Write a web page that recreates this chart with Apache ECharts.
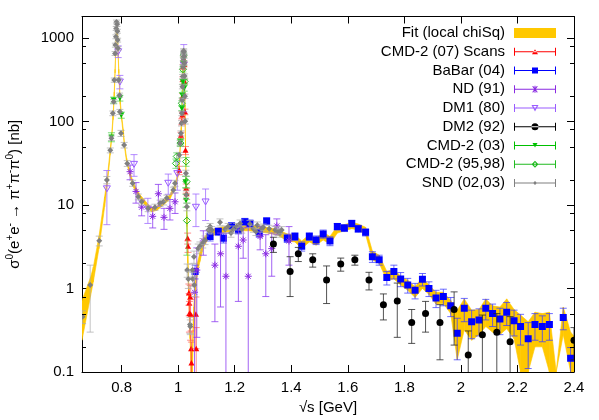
<!DOCTYPE html>
<html>
<head>
<meta charset="utf-8">
<script src="https://cdn.jsdelivr.net/npm/echarts@6/dist/echarts.min.js"></script>
<style>
  html, body { margin: 0; padding: 0; background: #fff; }
  #chart { width: 599px; height: 420px; }
</style>
</head>
<body>
<div id="chart"></div>
<script>
const FONT = '"Liberation Sans", Arial, Helvetica, sans-serif';

// axis ticks
const xTickValues = [0.8, 1, 1.2, 1.4, 1.6, 1.8, 2, 2.2, 2.4];
const yMinorTicks = [0.2, 0.5, 0.8, 2, 5, 8, 20, 50, 80, 200, 500, 800];

// fit band: [sqrt(s), lower, upper]
const fitBand = [
  [0.66, 0.24, 0.72], [0.69, 0.8, 1.35], [0.70, 1.2, 1.8], [0.72, 3.0, 4.2], [0.74, 9.5, 12.5],
  [0.75, 18, 22], [0.76, 40, 47], [0.765, 62, 70], [0.77, 105, 118], [0.774, 200, 225],
  [0.777, 380, 420], [0.780, 800, 880], [0.782, 1250, 1400], [0.784, 1350, 1500], [0.786, 950, 1050],
  [0.788, 600, 660], [0.790, 380, 420], [0.795, 160, 180], [0.800, 105, 118], [0.806, 70, 80],
  [0.810, 50, 56], [0.818, 32, 36], [0.83, 22, 25], [0.841, 16.5, 18.5], [0.865, 11.8, 13.2],
  [0.889, 9.4, 10.6], [0.906, 8.3, 9.3], [0.924, 8.6, 9.6], [0.948, 10, 11.2], [0.971, 11.8, 13.2],
  [0.989, 15.6, 17.6], [1.000, 22, 25], [1.005, 33, 37], [1.008, 50, 57], [1.011, 75, 85],
  [1.013, 110, 125], [1.015, 190, 215], [1.017, 380, 430], [1.019, 640, 720], [1.0205, 620, 700],
  [1.022, 380, 430], [1.024, 140, 160], [1.026, 50, 60], [1.028, 17, 21], [1.031, 5.5, 7.5],
  [1.034, 2.0, 2.8], [1.038, 0.7, 1.0], [1.042, 0.25, 0.4], [1.046, 0.06, 0.15], [1.050, 0.08, 0.2],
  [1.055, 0.35, 0.6], [1.060, 0.8, 1.15], [1.068, 1.5, 2.0], [1.077, 2.1, 2.7], [1.089, 3.1, 3.9],
  [1.10, 3.6, 4.4], [1.113, 4.1, 4.9], [1.13, 4.4, 5.2], [1.15, 4.6, 5.4], [1.20, 4.9, 5.7],
  [1.25, 4.9, 5.7], [1.30, 4.7, 5.5], [1.35, 4.4, 5.1], [1.386, 3.7, 4.5], [1.413, 3.6, 4.4],
  [1.437, 3.0, 3.7], [1.464, 3.6, 4.4], [1.488, 3.3, 4.0], [1.513, 3.8, 4.7], [1.537, 3.4, 4.2],
  [1.563, 4.6, 5.6], [1.588, 4.9, 5.8], [1.614, 5.2, 6.2], [1.637, 5.0, 5.9], [1.663, 4.4, 5.4],
  [1.687, 2.2, 2.8], [1.711, 2.0, 2.5], [1.738, 1.25, 1.6], [1.763, 1.3, 1.7], [1.787, 1.1, 1.4],
  [1.812, 0.95, 1.25], [1.838, 0.78, 1.05], [1.864, 1.0, 1.35], [1.887, 0.85, 1.1], [1.912, 0.65, 0.9],
  [1.938, 0.66, 0.9], [1.964, 0.5, 0.72], [1.987, 0.14, 0.55], [2.012, 0.32, 0.75], [2.038, 0.24, 0.55],
  [2.064, 0.28, 0.56], [2.088, 0.35, 0.75], [2.112, 0.3, 0.62], [2.138, 0.28, 0.6], [2.162, 0.33, 0.75],
  [2.188, 0.25, 0.56], [2.211, 0.08, 0.48], [2.238, 0.08, 0.4], [2.262, 0.2, 0.52], [2.288, 0.2, 0.5],
  [2.313, 0.1, 0.52], [2.337, 0.05, 0.1], [2.362, 0.28, 0.6], [2.388, 0.06, 0.3], [2.40, 0.06, 0.27]
];

// data points: [sqrt(s), sigma, error]
const cmd2Scans = [
  [1.004, 26, 3], [1.010, 68, 6], [1.013, 99, 8], [1.015, 119, 10], [1.016, 200, 15],
  [1.017, 320, 22], [1.018, 450, 28], [1.0195, 560, 35], [1.021, 480, 30], [1.022, 300, 20],
  [1.024, 130, 10], [1.026, 45, 5], [1.0285, 15.8, 2], [1.030, 13.6, 2], [1.0335, 4.0, 0.6],
  [1.035, 3.2, 0.5], [1.038, 0.88, 0.25], [1.039, 0.67, 0.2], [1.040, 0.50, 0.2], [1.043, 0.79, 0.3],
  [1.044, 0.49, 0.25], [1.046, 0.19, 0.12], [1.047, 0.128, 0.1], [1.063, 0.49, 0.3], [1.064, 0.19, 0.15]
];
const babar = [
  [1.060, 1.6, 0.3], [1.113, 4.2, 0.5], [1.142, 4.8, 0.5], [1.160, 4.0, 0.5], [1.189, 5.6, 0.5],
  [1.213, 5.0, 0.5], [1.236, 6.3, 0.6], [1.254, 6.0, 0.6], [1.287, 4.6, 0.5], [1.313, 6.4, 0.6],
  [1.386, 4.0, 0.45], [1.413, 4.2, 0.45], [1.437, 3.2, 0.4], [1.464, 4.2, 0.45], [1.488, 3.8, 0.45],
  [1.513, 4.5, 0.5], [1.537, 3.7, 0.45], [1.563, 5.5, 0.5], [1.588, 5.3, 0.5], [1.614, 6.0, 0.55],
  [1.637, 5.2, 0.5], [1.663, 4.7, 0.45], [1.687, 2.4, 0.35], [1.711, 2.2, 0.3], [1.738, 1.35, 0.25],
  [1.763, 1.6, 0.3], [1.787, 1.3, 0.25], [1.812, 1.1, 0.22], [1.838, 0.95, 0.2], [1.864, 1.29, 0.22],
  [1.887, 1.0, 0.2], [1.912, 0.77, 0.18], [1.938, 0.80, 0.18], [1.964, 0.62, 0.16], [1.987, 0.29, 0.15],
  [2.012, 0.58, 0.18], [2.038, 0.40, 0.15], [2.064, 0.42, 0.15], [2.088, 0.58, 0.16], [2.112, 0.50, 0.15],
  [2.138, 0.43, 0.15], [2.162, 0.52, 0.16], [2.188, 0.41, 0.14], [2.211, 0.35, 0.14], [2.238, 0.25, 0.14],
  [2.262, 0.37, 0.13], [2.288, 0.35, 0.12], [2.313, 0.37, 0.13], [2.362, 0.45, 0.13], [2.388, 0.146, 0.05]
];
const nd91 = [
  [0.830, 25, 5], [0.851, 14.5, 4], [0.871, 9.4, 2], [0.910, 7.3, 2], [0.930, 13.6, 4],
  [0.950, 7.1, 2], [0.971, 9.1, 2.5], [0.989, 10.9, 3], [1.058, 0.9, 0.8], [1.066, 1.66, 1.4],
  [1.089, 3.7, 1.2], [1.130, 1.9, 1.5], [1.150, 2.6, 2.0], [1.169, 1.4, 3.2], [1.213, 3.2, 2.5],
  [1.230, 3.8, 1.5], [1.248, 1.4, 4], [1.290, 4.2, 1.3], [1.310, 2.6, 1.8], [1.331, 3.0, 1.6],
  [1.349, 5.6, 1.2], [1.392, 3.7, 1.8]
];
const dm1 = [
  [0.748, 15.8, 10], [0.788, 690, 110], [0.794, 300, 55], [0.844, 31, 9], [0.893, 9, 3],
  [0.965, 18.4, 5], [0.997, 24, 9], [1.020, 480, 350], [1.063, 9.5, 4], [1.097, 11, 4.5]
];
const dm2 = [
  [1.337, 3.4, 0.7], [1.396, 1.6, 0.8], [1.425, 2.6, 0.5], [1.476, 2.2, 0.4], [1.525, 1.26, 0.6],
  [1.575, 1.96, 0.35], [1.625, 2.2, 0.3], [1.675, 1.26, 0.3], [1.726, 0.64, 0.22], [1.775, 0.71, 0.45],
  [1.826, 0.39, 0.17], [1.875, 0.50, 0.2], [1.926, 0.39, 0.25], [1.976, 0.56, 0.35], [2.026, 0.16, 0.15],
  [2.076, 0.28, 0.2], [2.127, 0.30, 0.2], [2.174, 0.23, 0.23], [2.40, 0.24, 0.1]
];
const cmd2_03 = [
  [0.764, 65, 8], [0.772, 180, 15], [0.794, 190, 15], [0.799, 119, 10],
  [1.008, 57, 5], [1.013, 144, 10], [1.015, 206, 15], [1.017, 298, 20], [1.019, 500, 30],
  [1.0215, 250, 20], [1.026, 19, 3], [1.028, 11.4, 2]
];
const cmd2_9598 = [
  [0.992, 31.4, 4], [0.995, 38, 4], [1.008, 55, 5], [1.013, 165, 12], [1.017, 420, 30],
  [1.0195, 620, 40], [1.023, 300, 20], [1.028, 33, 4], [1.030, 19, 3], [1.031, 6.5, 4]
];
const snd = [
  [0.662, 0.46, 0.08], [0.689, 1.10, 0.8], [0.721, 3.73, 0.5], [0.748, 19.9, 2], [0.760, 45, 3],
  [0.764, 63, 4], [0.769, 125, 8], [0.772, 172, 10], [0.774, 312, 18], [0.777, 650, 35],
  [0.778, 818, 45], [0.780, 1030, 55], [0.781, 1295, 70], [0.782, 1550, 80], [0.784, 1450, 75],
  [0.785, 1200, 65], [0.786, 940, 50], [0.787, 750, 40], [0.790, 312, 18], [0.793, 206, 12],
  [0.794, 130, 9], [0.798, 72, 6], [0.809, 52, 4], [0.820, 31.4, 2.5], [0.839, 18.2, 1.5],
  [0.859, 12.5, 1], [0.871, 10.9, 0.9], [0.894, 9.1, 0.8], [0.918, 9.4, 0.8], [0.936, 10.5, 0.9],
  [0.948, 10.9, 0.9], [0.960, 12.1, 1], [0.983, 15.1, 1.2], [0.989, 18.2, 1.5], [1.004, 39.6, 3],
  [1.007, 54.8, 4], [1.010, 72, 5], [1.012, 95, 7], [1.013, 125, 8], [1.014, 180, 10],
  [1.015, 260, 15], [1.016, 344, 20], [1.017, 450, 25], [1.018, 560, 30], [1.019, 650, 35],
  [1.0195, 700, 40], [1.020, 680, 35], [1.021, 600, 30], [1.022, 500, 28], [1.023, 350, 20],
  [1.024, 200, 12], [1.025, 100, 7], [1.0275, 24, 2], [1.029, 13.2, 1.5], [1.031, 9.5, 1],
  [1.032, 1.66, 0.3], [1.036, 1.30, 0.3], [1.042, 0.37, 0.08], [1.043, 0.35, 0.07], [1.051, 1.66, 0.3],
  [1.052, 1.30, 0.25], [1.056, 2.4, 0.4], [1.057, 1.1, 0.3], [1.071, 3.0, 0.4], [1.077, 3.2, 0.4],
  [1.087, 3.5, 0.45], [1.095, 3.8, 0.45], [1.107, 5.0, 0.5], [1.113, 5.5, 0.5], [1.119, 5.0, 0.5],
  [1.148, 6.2, 0.6], [1.166, 5.1, 0.5], [1.177, 5.5, 0.5], [1.187, 4.6, 0.5], [1.195, 5.1, 0.5],
  [1.207, 5.5, 0.5], [1.219, 6.0, 0.6], [1.225, 5.1, 0.5], [1.254, 5.9, 0.6], [1.266, 5.2, 0.5],
  [1.275, 4.8, 0.5], [1.280, 5.7, 0.55], [1.296, 5.2, 0.5], [1.301, 5.4, 0.5], [1.322, 5.2, 0.5],
  [1.343, 5.0, 0.5], [1.354, 4.8, 0.5], [1.360, 4.6, 0.5], [1.366, 5.0, 0.5]
];

// marker shapes drawn at pixel (x, y)
const markers = {
  triUp: (x, y, c) => ({ type: 'polygon', shape: { points: [[x - 3, y + 2.5], [x + 3, y + 2.5], [x, y - 3]] }, style: { fill: c } }),
  square: (x, y, c) => ({ type: 'rect', shape: { x: x - 3.5, y: y - 3.5, width: 7, height: 7 }, style: { fill: c } }),
  star: (x, y, c) => ({ type: 'path', shape: { pathData: `M${x - 3.5},${y}L${x + 3.5},${y}M${x},${y - 3.5}L${x},${y + 3.5}M${x - 2.5},${y - 2.5}L${x + 2.5},${y + 2.5}M${x - 2.5},${y + 2.5}L${x + 2.5},${y - 2.5}` }, style: { stroke: c, fill: null, lineWidth: 1 } }),
  triDownOpen: (x, y, c) => ({ type: 'polygon', shape: { points: [[x - 3.5, y - 2.5], [x + 3.5, y - 2.5], [x, y + 3.5]] }, style: { stroke: c, fill: null, lineWidth: 1 } }),
  circle: (x, y, c) => ({ type: 'circle', shape: { cx: x, cy: y, r: 3.5 }, style: { fill: c } }),
  triDown: (x, y, c) => ({ type: 'polygon', shape: { points: [[x - 3, y - 2.5], [x + 3, y - 2.5], [x, y + 3]] }, style: { fill: c } }),
  diamondOpen: (x, y, c) => ({ type: 'polygon', shape: { points: [[x, y - 3.5], [x + 3.5, y], [x, y + 3.5], [x - 3.5, y]] }, style: { stroke: c, fill: null, lineWidth: 1 } }),
  diamond: (x, y, c) => ({ type: 'polygon', shape: { points: [[x, y - 3], [x + 3, y], [x, y + 3], [x - 3, y]] }, style: { fill: c } })
};

function errorSeries(name, rows, color, barColor, marker) {
  return {
    name: name, type: 'custom', data: rows, clip: true,
    itemStyle: { color: color },
    encode: { x: 0, y: 1 },
    renderItem: function (params, api) {
      const cs = params.coordSys;
      const bottom = cs.y + cs.height;
      const x = api.value(0), y = api.value(1), dy = api.value(2);
      const p = api.coord([x, y]);
      const hi = Math.max(api.coord([x, y + dy])[1], cs.y);
      const lo = Math.min(api.coord([x, Math.max(y - dy, 1e-4)])[1], bottom);
      let d = `M${p[0]},${hi}L${p[0]},${lo}`;
      if (hi > cs.y) d += `M${p[0] - 3.5},${hi}L${p[0] + 3.5},${hi}`;
      if (lo < bottom) d += `M${p[0] - 3.5},${lo}L${p[0] + 3.5},${lo}`;
      const children = [{ type: 'path', shape: { pathData: d }, style: { stroke: barColor, fill: null, lineWidth: 1 } }];
      if (p[1] <= bottom && p[1] >= cs.y) children.push(marker(p[0], p[1], color));
      return { type: 'group', children: children };
    }
  };
}

// legend icons in a 42 x 10 box: error bar plus marker
const barIcon = 'M0,1L1,1L1,9L0,9Z M41,1L42,1L42,9L41,9Z M1,4.5L41,4.5L41,5.5L1,5.5Z';
const icons = {
  triUp: 'M18,7.5L24,7.5L21,2.5Z',
  square: 'M18,2L24,2L24,8L18,8Z',
  star: 'M20.5,1.5L21.5,1.5L21.5,8.5L20.5,8.5Z M17.5,4.5L24.5,4.5L24.5,5.5L17.5,5.5Z M18.3,2.3L19,1.6L23.7,7.7L23,8.4Z M23,1.6L23.7,2.3L19,8.4L18.3,7.7Z',
  triDownOpen: 'M17.5,2L24.5,2L21,8.5Z M19.3,3L21,6.2L22.7,3Z',
  circle: 'M17.5,5A3.5,3.5 0 1,0 24.5,5A3.5,3.5 0 1,0 17.5,5Z',
  triDown: 'M18.5,2.5L23.5,2.5L21,7Z',
  diamondOpen: 'M21,1.5L24.5,5L21,8.5L17.5,5Z M21,3L19.5,5L21,7L22.5,5Z',
  diamond: 'M21,3L23,5L21,7L19,5Z'
};
const icon = k => 'path://' + barIcon + ' ' + icons[k];

const option = {
  animation: false,
  backgroundColor: '#fff',
  textStyle: { fontFamily: FONT },
  grid: { left: 82, right: 25, top: 16.5, bottom: 48, containLabel: false, outerBoundsMode: 'none' },
  legend: {
    orient: 'vertical', right: 43, top: 25.5, align: 'right', padding: 0,
    itemWidth: 42, itemHeight: 10, itemGap: 3.75,
    textStyle: { fontSize: 15, lineHeight: 15, color: '#000', fontFamily: FONT, padding: [0, 4, 0, 0] },
    data: [
      { name: 'Fit (local chiSq)', icon: 'rect' },
      { name: 'CMD-2 (07) Scans', icon: icon('triUp') },
      { name: 'BaBar (04)', icon: icon('square') },
      { name: 'ND (91)', icon: icon('star') },
      { name: 'DM1 (80)', icon: icon('triDownOpen') },
      { name: 'DM2 (92)', icon: icon('circle') },
      { name: 'CMD-2 (03)', icon: icon('triDown') },
      { name: 'CMD-2 (95,98)', icon: icon('diamondOpen') },
      { name: 'SND (02,03)', icon: icon('diamond') }
    ]
  },
  xAxis: [{
    type: 'value', min: 0.66, max: 2.4, position: 'bottom',
    axisLine: { show: true, onZero: false, lineStyle: { color: '#000', width: 1 } },
    axisTick: { show: true, inside: true, length: 7, customValues: xTickValues, lineStyle: { color: '#000' } },
    axisLabel: { customValues: xTickValues, fontSize: 15, color: '#000', fontFamily: FONT, margin: 8 },
    splitLine: { show: false },
    name: '√s [GeV]', nameLocation: 'middle', nameGap: 28,
    nameTextStyle: { fontSize: 15, color: '#000', fontFamily: FONT }
  }, {
    type: 'value', min: 0.66, max: 2.4, position: 'top',
    axisLine: { show: true, onZero: false, lineStyle: { color: '#000', width: 1 } },
    axisTick: { show: true, inside: true, length: 7, customValues: xTickValues, lineStyle: { color: '#000' } },
    axisLabel: { show: false },
    splitLine: { show: false }
  }],
  yAxis: [{
    type: 'log', logBase: 10, min: 0.1, max: 1800, position: 'left',
    axisLine: { show: true, onZero: false, lineStyle: { color: '#000', width: 1 } },
    axisTick: { show: true, inside: true, length: 7, lineStyle: { color: '#000' } },
    axisLabel: {
      fontSize: 15, color: '#000', fontFamily: FONT, margin: 8, showMaxLabel: false,
      formatter: function (v) {
        const e = Math.log10(v);
        if (Math.abs(e - Math.round(e)) > 1e-6) return '';
        return e < 0 ? (+v).toFixed(1) : String(Math.round(v));
      }
    },
    splitLine: { show: false },
    name: '{t|σ}{s|0}{t|(e}{s|+}{t|e}{s|-}{t| → π}{s|+}{t|π}{s|-}{t|π}{s|0}{t|) [nb]}',
    nameLocation: 'middle', nameGap: 57,
    nameTextStyle: {
      color: '#000', fontFamily: FONT,
      rich: {
        t: { fontSize: 15, lineHeight: 20, color: '#000', fontFamily: FONT },
        s: { fontSize: 10, lineHeight: 12, verticalAlign: 'top', color: '#000', fontFamily: FONT }
      }
    }
  }, {
    type: 'log', logBase: 10, min: 0.1, max: 1800, position: 'right',
    axisLine: { show: true, onZero: false, lineStyle: { color: '#000', width: 1 } },
    axisTick: { show: true, inside: true, length: 7, lineStyle: { color: '#000' } },
    axisLabel: { show: false },
    splitLine: { show: false }
  }],
  series: [
    {
      name: 'Fit (local chiSq)', type: 'custom', data: fitBand, clip: true,
      itemStyle: { color: '#ffc800' },
      encode: { x: 0, y: [1, 2] },
      renderItem: function (params, api) {
        const i = params.dataIndex;
        if (i >= fitBand.length - 1) return null;
        const a = fitBand[i], b = fitBand[i + 1];
        const cs = params.coordSys;
        const bottom = cs.y + cs.height;
        const pt = (x, y) => { const p = api.coord([x, y]); return [p[0], Math.min(p[1], bottom)]; };
        return {
          type: 'polygon',
          shape: { points: [pt(a[0], a[1]), pt(b[0], b[1]), pt(b[0], b[2]), pt(a[0], a[2])] },
          style: { fill: '#ffc800', stroke: '#ffc800', lineWidth: 0.6 }
        };
      }
    },
    errorSeries('CMD-2 (07) Scans', cmd2Scans, '#ff0000', 'rgba(255,70,70,0.6)', markers.triUp),
    errorSeries('BaBar (04)', babar, '#0000ff', 'rgba(60,60,255,0.75)', markers.square),
    errorSeries('ND (91)', nd91, '#8a2be2', 'rgba(140,60,240,0.8)', markers.star),
    errorSeries('DM1 (80)', dm1, '#9a5cff', 'rgba(160,110,255,0.8)', markers.triDownOpen),
    errorSeries('DM2 (92)', dm2, '#000000', 'rgba(40,40,40,0.8)', markers.circle),
    errorSeries('CMD-2 (03)', cmd2_03, '#00c000', 'rgba(60,210,60,0.7)', markers.triDown),
    errorSeries('CMD-2 (95,98)', cmd2_9598, '#22bb22', 'rgba(80,210,80,0.7)', markers.diamondOpen),
    errorSeries('SND (02,03)', snd, '#808080', 'rgba(170,170,170,0.7)', markers.diamond),
    {
      // minor log ticks at 2, 5, 8 on both vertical borders
      name: 'minor ticks', type: 'custom', data: yMinorTicks.map(v => [0.66, v]), silent: true,
      encode: { x: 0, y: 1 },
      renderItem: function (params, api) {
        const cs = params.coordSys;
        const y = Math.round(api.coord([api.value(0), api.value(1)])[1]) + 0.5;
        const r = cs.x + cs.width;
        return {
          type: 'path',
          shape: { pathData: `M${cs.x},${y}L${cs.x + 4},${y}M${r - 4},${y}L${r},${y}` },
          style: { stroke: '#000', fill: null, lineWidth: 1 }
        };
      }
    }
  ]
};

const chart = echarts.init(document.getElementById('chart'), null, { renderer: 'canvas' });
chart.setOption(option);
</script>
</body>
</html>
